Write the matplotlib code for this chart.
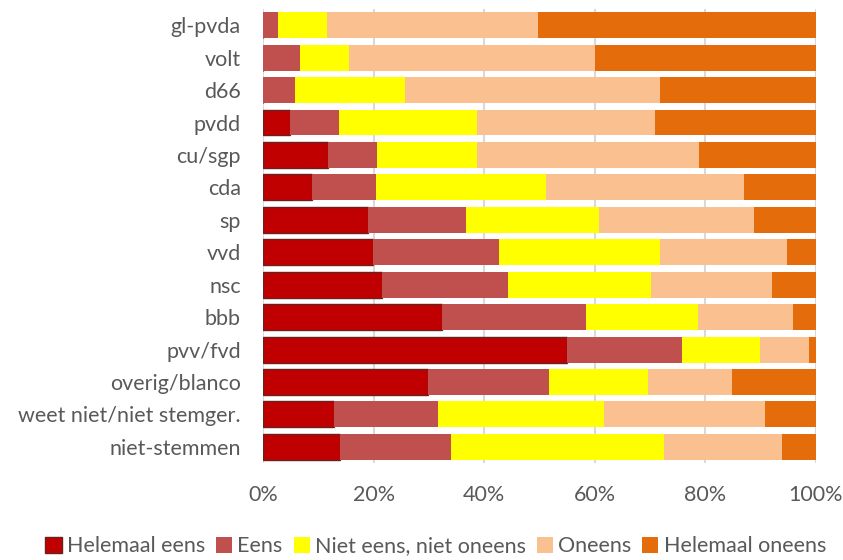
import matplotlib.pyplot as plt
import numpy as np

plt.rcParams['font.family'] = ['Lato', 'DejaVu Sans']

partijen = ['gl-pvda', 'volt', 'd66', 'pvdd', 'cu/sgp', 'cda', 'sp', 'vvd', 'nsc',
            'bbb', 'pvv/fvd', 'overig/blanco', 'weet niet/niet stemger.', 'niet-stemmen']

helemaal_eens = [0.0, 0.0, 0.0, 4.9, 11.8, 8.8, 18.9, 19.9, 21.6, 32.3, 54.9, 29.9, 12.9, 14.0]
eens = [2.7, 6.6, 5.7, 8.8, 8.9, 11.6, 17.8, 22.8, 22.7, 26.1, 20.9, 21.8, 18.8, 20.0]
neutraal = [8.9, 8.9, 20.0, 25.0, 18.0, 30.8, 24.1, 29.1, 25.8, 20.2, 14.0, 18.0, 30.0, 38.6]
oneens = [38.2, 44.6, 46.1, 32.1, 40.1, 35.7, 28.0, 23.0, 21.9, 17.2, 9.0, 15.1, 29.1, 21.2]
helemaal_oneens = [50.2, 39.9, 28.2, 29.2, 21.2, 13.1, 11.2, 5.2, 8.0, 4.2, 1.2, 15.2, 9.2, 6.2]

reeksen = ['Helemaal eens', 'Eens', 'Niet eens, niet oneens', 'Oneens', 'Helemaal oneens']
kleuren = ['#C00000', '#C0504D', '#FFFF00', '#FAC090', '#E46C0A']

fig = plt.figure(figsize=(8.43, 5.6), dpi=100)
ax = fig.add_axes([0.312, 0.173, 0.656, 0.811])

y = np.arange(len(partijen))
links = np.zeros(len(partijen))
data = [helemaal_eens, eens, neutraal, oneens, helemaal_oneens]
for i, waarden in enumerate(data):
    w = np.array(waarden) / 100
    if i == 0:
        ax.barh(y, w, left=links, height=0.8, color=kleuren[i], edgecolor='#6B2020',
                linewidth=1, label=reeksen[i], zorder=3)
    else:
        ax.barh(y, w, left=links, height=0.8, color=kleuren[i], label=reeksen[i], zorder=3)
    links += w

ax.set_xlim(0, 1)
ax.set_ylim(len(partijen) - 0.5, -0.5)
ax.set_yticks(y)
ax.set_yticklabels(partijen)
ax.set_xticks(np.linspace(0, 1, 6))
ax.set_xticklabels(['0%', '20%', '40%', '60%', '80%', '100%'])
ax.tick_params(length=0, labelsize=15.5, colors='#595959')
ax.tick_params(axis='y', pad=16)
ax.tick_params(axis='x', pad=16)
ax.grid(axis='x', color='#D9D9D9', linewidth=1.5, zorder=0)
for s in ax.spines.values():
    s.set_visible(False)

h, l = ax.get_legend_handles_labels()
fig.legend(h, l, loc='lower center', bbox_to_anchor=(0.517, -0.028), ncol=5, frameon=False,
           fontsize=15.5, handlelength=0.75, handleheight=0.75, handletextpad=0.25,
           columnspacing=0.5, labelcolor='#595959')

fig.savefig('out.png', dpi=100)
